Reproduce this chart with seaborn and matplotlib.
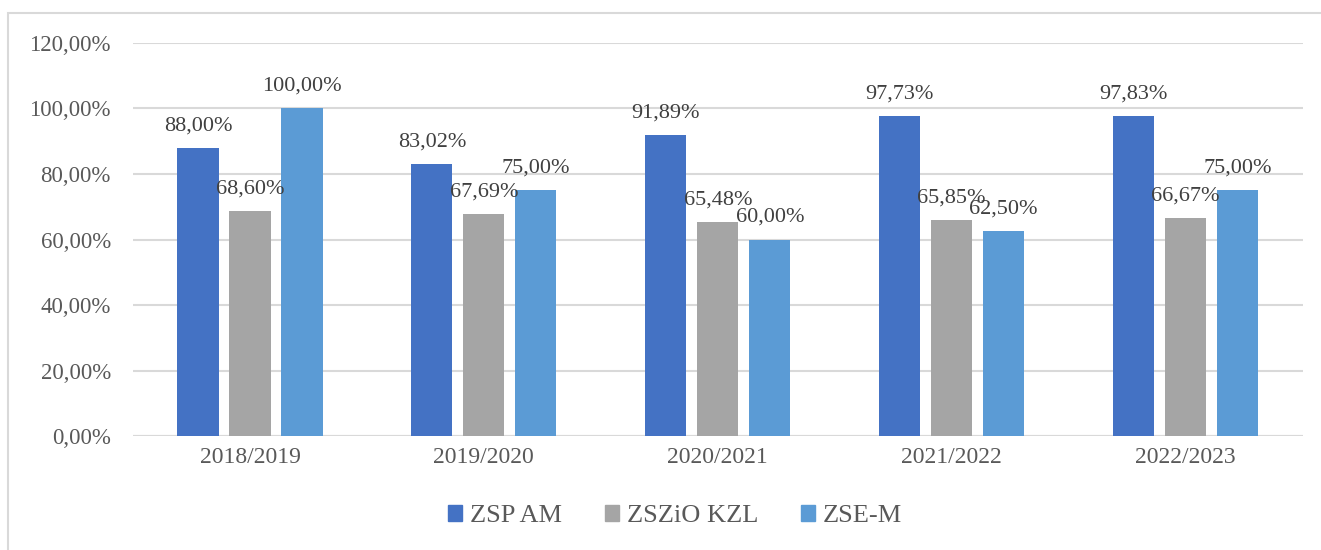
import numpy as np
import pandas as pd
import matplotlib
matplotlib.use('Agg')
import matplotlib.pyplot as plt
import matplotlib.patches as mpatches
import seaborn as sns

years = ['2018/2019', '2019/2020', '2020/2021', '2021/2022', '2022/2023']
schools = ['ZSP AM', 'ZSZiO KZL', 'ZSE-M']
zsp_am = [88.00, 83.02, 91.89, 97.73, 97.83]
zszio_kzl = [68.60, 67.69, 65.48, 65.85, 66.67]
zse_m = [100.00, 75.00, 60.00, 62.50, 75.00]
yticks = [0, 20, 40, 60, 80, 100, 120]

df = pd.DataFrame({
    'year': years * 3,
    'school': [s for s in schools for _ in years],
    'value': zsp_am + zszio_kzl + zse_m,
})

sns.set_style('white')
plt.rcParams['font.family'] = ['Liberation Serif', 'DejaVu Serif']

colors = ['#4472C4', '#A5A5A5', '#5B9BD5']

fig = plt.figure(figsize=(13.21, 5.5), dpi=100)
ax = fig.add_axes([0.1007, 0.207, 0.8853, 0.715])

sns.barplot(data=df, x='year', y='value', hue='school', palette=colors,
            width=0.667, gap=0.21, saturation=1, ax=ax, legend=False,
            zorder=3, linewidth=0)

def fmt(v):
    return f'{v:.2f}%'.replace('.', ',')

for cont in ax.containers:
    ax.bar_label(cont, labels=[fmt(v) for v in cont.datavalues], padding=9,
                 fontsize=16, color='#404040', zorder=4)

ax.set_ylim(0, 120)
ax.set_yticks(yticks)
ax.set_yticklabels([fmt(v) for v in yticks], fontsize=16.5, color='#595959')
ax.set_xlim(-0.5, 4.5)
ax.tick_params(axis='x', labelsize=17, labelcolor='#595959', length=0, pad=8)
ax.tick_params(axis='y', length=0, pad=16)
ax.set_xlabel('')
ax.set_ylabel('')
ax.grid(axis='y', color='#D9D9D9', linewidth=1.5, zorder=0)
for sp in ax.spines.values():
    sp.set_visible(False)
ax.axhline(0, color='#D9D9D9', linewidth=1.5, zorder=2)

handles = [mpatches.Patch(color=c, label=s) for c, s in zip(colors, schools)]
leg = fig.legend(handles=handles, loc='center', bbox_to_anchor=(0.511, 0.062),
                 ncol=3, frameon=False, fontsize=19,
                 handlelength=0.55, handleheight=0.55,
                 handletextpad=0.3, columnspacing=1.6)
for t in leg.get_texts():
    t.set_fontfamily(['Liberation Serif', 'DejaVu Serif'])
    t.set_color('#595959')

frame = mpatches.Rectangle((8 / 1321, -0.1), 1.2, 1 - 13 / 550 + 0.1,
                           transform=fig.transFigure, fill=False,
                           edgecolor='#D9D9D9', linewidth=1.5, clip_on=False)
fig.patches.append(frame)

fig.savefig('out.png', dpi=100)
